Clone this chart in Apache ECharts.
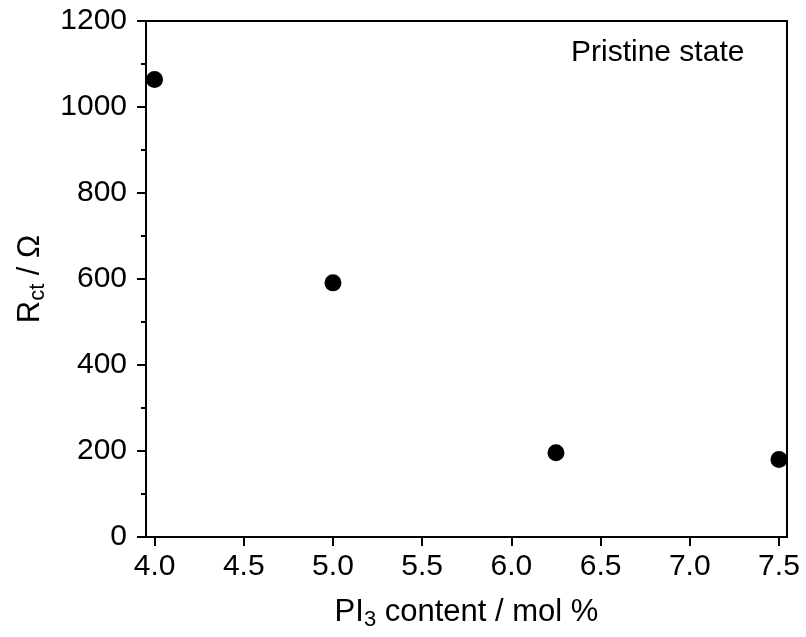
<!DOCTYPE html>
<html><head><meta charset="utf-8">
<script src="https://cdn.jsdelivr.net/npm/echarts@6/dist/echarts.min.js"></script>
<style>html,body{margin:0;padding:0;background:#fff}#c{width:806px;height:637px}</style>
</head><body><div id="c"></div>
<script>
const xValues = [4.0, 5.0, 6.25, 7.5];
const rctValues = [1064, 591, 196, 180];
const xTicks = [4.0, 4.5, 5.0, 5.5, 6.0, 6.5, 7.0, 7.5];
const annotation = 'Pristine state';

const FONT = '"Liberation Sans", Arial, sans-serif';
const rich = {
  n: { fontSize: 31, fontFamily: FONT, color: '#000' },
  s: { fontSize: 22, fontFamily: FONT, color: '#000', verticalAlign: 'bottom', padding: [16, 0, 0, 0] }
};
const chart = echarts.init(document.getElementById('c'));
chart.setOption({
  animation: false,
  backgroundColor: '#fff',
  grid: { left: 146, right: 19, top: 21, bottom: 100, show: true, borderColor: '#000', borderWidth: 2, backgroundColor: 'transparent' },
  xAxis: {
    type: 'value', min: 3.952, max: 7.545,
    name: '{n|PI}{s|3}{n| content / mol %}', nameLocation: 'middle', nameGap: 56,
    nameTextStyle: { rich: rich },
    axisLine: { show: true, lineStyle: { color: '#000', width: 2 } },
    axisTick: { show: true, length: 9, lineStyle: { color: '#000', width: 2 }, customValues: xTicks },
    axisLabel: { customValues: xTicks, margin: 15, fontSize: 30, fontFamily: FONT, color: '#000', formatter: v => v.toFixed(1) },
    splitLine: { show: false }
  },
  yAxis: {
    type: 'value', min: 0, max: 1200, interval: 200,
    name: '{n|R}{s|ct}{n| / Ω}', nameLocation: 'middle', nameGap: 96,
    nameTextStyle: { rich: rich },
    axisLine: { show: true, lineStyle: { color: '#000', width: 2 } },
    axisTick: { show: true, length: 9, lineStyle: { color: '#000', width: 2 } },
    minorTick: { show: true, splitNumber: 2, length: 5, lineStyle: { color: '#000', width: 2 } },
    axisLabel: { margin: 19, fontSize: 30, fontFamily: FONT, color: '#000', formatter: v => String(v) },
    splitLine: { show: false }, minorSplitLine: { show: false }
  },
  graphic: [{ type: 'text', left: 571, top: 38, style: { text: annotation, fontSize: 30, fontFamily: FONT, fill: '#000' } }],
  series: [{
    type: 'scatter', symbol: 'circle', symbolSize: 17,
    itemStyle: { color: '#000', opacity: 1 },
    data: xValues.map((x, i) => [x, rctValues[i]])
  }]
});
</script></body></html>
